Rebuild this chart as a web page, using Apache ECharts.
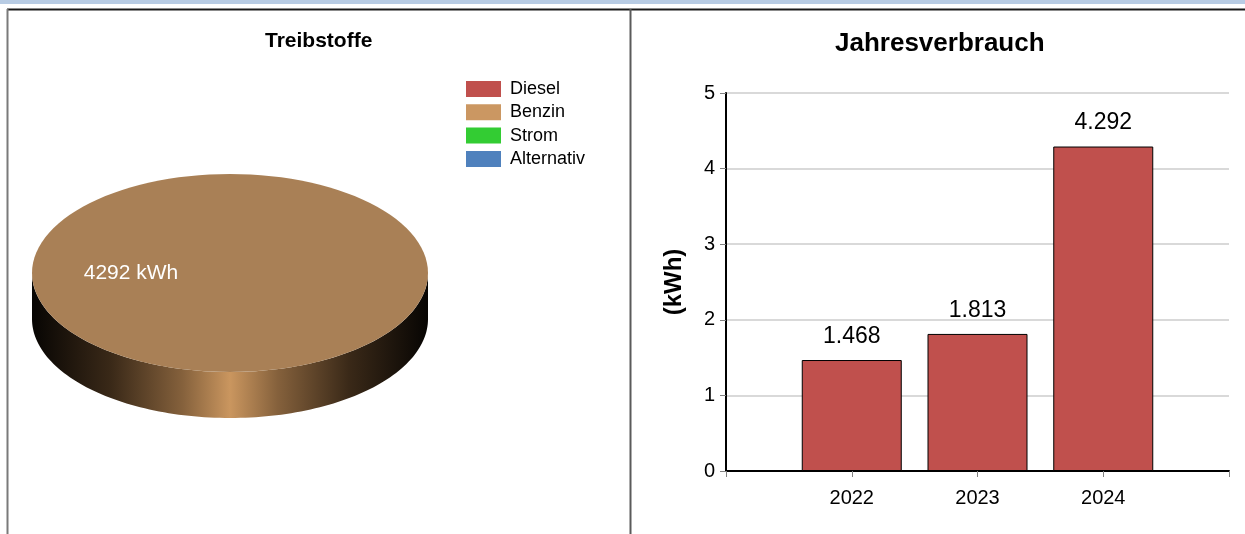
<!DOCTYPE html>
<html>
<head>
<meta charset="utf-8">
<script src="https://cdn.jsdelivr.net/npm/echarts@6/dist/echarts.min.js"></script>
<style>
  html, body { margin: 0; padding: 0; background: #fff; }
  #chart { width: 1245px; height: 534px; }
</style>
</head>
<body>
<div id="chart"></div>
<script>
  // Treibstoffe (kWh)
  const fuelNames = ['Diesel', 'Benzin', 'Strom', 'Alternativ']
  const fuelValues = [0, 4292, 0, 0]
  const fuelColors = ['#c0504d', '#cb9762', '#33cc33', '#4f81bd']
  const fuelTopColors = ['#a8433f', '#a98056', '#2aa82a', '#436ea0']

  // Jahresverbrauch (kWh)
  const years = [2022, 2023, 2024]
  const usage = [1468, 1813, 4292]
  const yTicks = [0, 1000, 2000, 3000, 4000, 5000]

  const FONT = 'Arial, "Liberation Sans", sans-serif'
  const fuelTotal = fuelValues.reduce((a, b) => a + b, 0)

  // pie geometry (3D ellipse)
  const pie = { cx: 230, cy: 273, rx: 198, ry: 99, depth: 46 }

  function ellPt(t, dy) {
    return [pie.cx + pie.rx * Math.cos(t), pie.cy - pie.ry * Math.sin(t) + (dy || 0)]
  }

  function deFormat(v) {
    return String(v).replace(/\B(?=(\d{3})+(?!\d))/g, '.')
  }

  function renderSlice(idx) {
    return function (params, api) {
      const v = api.value(0)
      if (!v) return null
      let before = 0
      for (let i = 0; i < idx; i++) before += fuelValues[i]
      const a0 = before / fuelTotal * Math.PI * 2
      const a1 = (before + v) / fuelTotal * Math.PI * 2
      const full = v >= fuelTotal
      const steps = 120
      const top = []
      if (!full) top.push([pie.cx, pie.cy])
      for (let k = 0; k <= steps; k++) top.push(ellPt(a0 + (a1 - a0) * k / steps))

      // side: part of the slice in the front half (PI..2PI)
      const s0 = Math.max(a0, Math.PI)
      const s1 = Math.min(a1, Math.PI * 2)
      const children = []
      if (s1 > s0) {
        const side = []
        for (let k = 0; k <= steps; k++) side.push(ellPt(s0 + (s1 - s0) * k / steps))
        for (let k = steps; k >= 0; k--) side.push(ellPt(s0 + (s1 - s0) * k / steps, pie.depth))
        children.push({
          type: 'polygon',
          shape: { points: side },
          style: {
            fill: new echarts.graphic.LinearGradient(pie.cx - pie.rx, 0, pie.cx + pie.rx, 0, [
              { offset: 0, color: '#070503' },
              { offset: 0.2, color: '#3a2918' },
              { offset: 0.38, color: '#85613c' },
              { offset: 0.5, color: '#ca965f' },
              { offset: 0.62, color: '#85613c' },
              { offset: 0.8, color: '#3a2918' },
              { offset: 1, color: '#070503' }
            ], true)
          }
        })
      }
      children.push({
        type: 'polygon',
        shape: { points: top },
        style: { fill: fuelTopColors[idx] }
      })
      const mid = (a0 + a1) / 2
      const lp = [pie.cx + pie.rx * 0.5 * Math.cos(mid), pie.cy - pie.ry * 0.5 * Math.sin(mid)]
      children.push({
        type: 'text',
        x: lp[0],
        y: lp[1],
        style: {
          text: v + ' kWh',
          fill: '#fff',
          font: '21px ' + FONT,
          align: 'center',
          verticalAlign: 'middle'
        }
      })
      return { type: 'group', children: children }
    }
  }

  const chart = echarts.init(document.getElementById('chart'))

  const pieSeries = fuelNames.map(function (name, i) {
    return {
      type: 'custom',
      name: name,
      coordinateSystem: 'none',
      itemStyle: { color: fuelColors[i] },
      renderItem: renderSlice(i),
      data: [[fuelValues[i]]],
      silent: true
    }
  })

  chart.setOption({
    animation: false,
    textStyle: { fontFamily: FONT },
    title: [
      {
        text: 'Treibstoffe',
        left: 260,
        top: 26,
        textStyle: { fontSize: 21, fontWeight: 'bold', color: '#000', fontFamily: FONT }
      },
      {
        text: 'Jahresverbrauch',
        left: 830,
        top: 26,
        textStyle: { fontSize: 26, fontWeight: 'bold', color: '#000', fontFamily: FONT }
      }
    ],
    legend: {
      data: fuelNames,
      orient: 'vertical',
      left: 466,
      top: 80,
      padding: 0,
      icon: 'rect',
      itemWidth: 35,
      itemHeight: 16,
      itemGap: 5.3,
      selectedMode: false,
      textStyle: { fontSize: 18, color: '#000', fontFamily: FONT, padding: [0, 0, 0, 4] }
    },
    grid: {
      left: 726,
      right: 16,
      top: 93,
      bottom: 63
    },
    xAxis: {
      type: 'value',
      min: 2021,
      max: 2025,
      interval: 1,
      axisLine: { show: true, onZero: false, lineStyle: { color: '#000', width: 2 } },
      axisTick: { show: true, length: 6, lineStyle: { color: '#808080' } },
      splitLine: { show: false },
      axisLabel: {
        fontSize: 20,
        color: '#000',
        margin: 17,
        fontFamily: FONT,
        formatter: function (v) { return years.indexOf(v) >= 0 ? String(v) : '' }
      }
    },
    yAxis: {
      type: 'value',
      min: 0,
      max: yTicks[yTicks.length - 1],
      interval: 1000,
      name: '(kWh)',
      nameLocation: 'middle',
      nameGap: 40,
      nameTextStyle: { fontSize: 24, fontWeight: 'bold', color: '#000', fontFamily: FONT },
      axisLine: { show: true, lineStyle: { color: '#000', width: 2 } },
      axisTick: { show: true, length: 6, lineStyle: { color: '#808080' } },
      splitLine: { show: true, lineStyle: { color: '#d9d9d9', width: 2 } },
      axisLabel: {
        fontSize: 20,
        color: '#000',
        margin: 11,
        fontFamily: FONT,
        formatter: function (v) { return String(v / 1000) }
      }
    },
    series: pieSeries.concat([
      {
        type: 'bar',
        name: 'Jahresverbrauch',
        barWidth: 100,
        itemStyle: { color: '#c0504d', borderColor: '#000', borderWidth: 1 },
        label: {
          show: true,
          position: 'top',
          distance: 12,
          fontSize: 23,
          color: '#000',
          fontFamily: FONT,
          formatter: function (p) { return deFormat(p.value[1]) }
        },
        data: years.map(function (y, i) { return [y, usage[i]] })
      }
    ]),
    graphic: [
      { type: 'rect', shape: { x: 0, y: 0, width: 1245, height: 4 }, style: { fill: '#b8cce4' }, silent: true },
      { type: 'line', shape: { x1: 7, y1: 9.5, x2: 1245, y2: 9.5 }, style: { stroke: '#1a1a1a', lineWidth: 2 }, silent: true },
      { type: 'line', shape: { x1: 7.5, y1: 9, x2: 7.5, y2: 534 }, style: { stroke: '#7a7a7a', lineWidth: 2 }, silent: true },
      { type: 'line', shape: { x1: 630.5, y1: 9, x2: 630.5, y2: 534 }, style: { stroke: '#5a5a5a', lineWidth: 2 }, silent: true }
    ]
  })
</script>
</body>
</html>
